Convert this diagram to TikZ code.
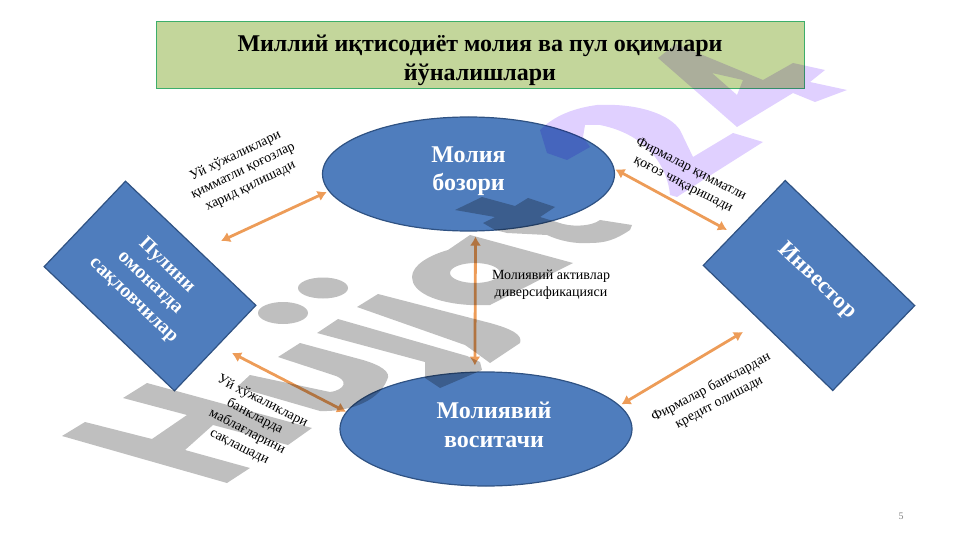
\documentclass[tikz,border=0pt]{standalone}
\usepackage{fontspec}
\setmainfont{Liberation Serif}
\usepackage{xcolor}
\usetikzlibrary{arrows.meta}
\usetikzlibrary{shapes.geometric}

\definecolor{titlefill}{HTML}{C3D69B}
\definecolor{titleline}{HTML}{3DAE6A}
\definecolor{nodefill}{HTML}{4F7DBD}
\definecolor{nodeline}{HTML}{2F5283}
\definecolor{flowline}{HTML}{ED9C58}
\definecolor{markgray}{HTML}{BFBFBF}
\definecolor{markpurple}{HTML}{E0D0FF}

\tikzset{
  market/.style={ellipse,draw=nodeline,fill=nodefill,line width=1.2pt,minimum width=292pt,minimum height=114pt,inner sep=0pt},
  markettext/.style={text=white,inner sep=0pt,align=center,font=\fontsize{24}{28.5}\selectfont\bfseries},
  agent/.style={rectangle,draw=nodeline,fill=nodefill,line width=1.2pt,minimum width=180pt,minimum height=118pt,inner sep=0pt},
  agenttext/.style={text=white,inner sep=0pt,align=center},
  flow/.style={{Latex[length=9pt,width=11pt]}-{Latex[length=9pt,width=11pt]},draw=flowline,line width=2.8pt},
  note/.style={align=center,inner sep=0pt,font=\fontsize{14}{17}\selectfont}
}

\begin{document}
\begin{tikzpicture}[x=1pt,y=-1pt]
  \useasboundingbox (0,0) rectangle (961,540);
  % header
  \node[rectangle,draw=titleline,fill=titlefill,line width=1pt,minimum width=648pt,minimum height=67pt,inner sep=0pt] (title) at (480,55.5) {};
  \node[inner sep=0pt,align=center,font=\fontsize{24}{29.5}\selectfont\bfseries] (titletext) at (480,60.5) {Миллий иқтисодиёт молия ва пул оқимлари\\йўналишлари};

  \node[market] (bozor) at (468.5,174) {};
  \node[market] (vositachi) at (486,429) {};
  \node[agent,rotate=-43.6] (saver) at (150,286) {};
  \node[agent,rotate=-44] (investor) at (809,285.5) {};
  \node[markettext] (bozortext) at (468.5,171) {Молия\\бозори};
  \node[markettext] (vositachitext) at (494,425) {Молиявий\\воситачи};
  \node[agenttext,rotate=-43.6,font=\fontsize{19.7}{24}\selectfont\bfseries] (savertext) at (150,283) {Пулини\\омонатда\\сақловчилар};
  \node[agenttext,rotate=-44,font=\fontsize{23}{28}\selectfont\bfseries] (investortext) at (817,281) {Инвестор};

  \coordinate (saverup) at (221,241);
  \coordinate (saverdown) at (232,353);
  \coordinate (investup) at (727,230);
  \coordinate (investdown) at (743,332);

  \draw[flow,shorten >=2pt] (saverup) -- (bozor.187);
  \draw[flow,shorten <=1pt] (bozor.2) -- (investup);
  \draw[flow,shorten <=5pt,shorten >=6pt] (bozor.-83.5) -- (vositachi.101);
  \draw[flow] (saverdown) -- (vositachi.173);
  \draw[flow,shorten >=2pt] (investdown) -- (vositachi.10);

  \node[note,rotate=26] (lbuy) at (243,171) {Уй хўжаликлари\\қимматли қоғозлар\\харид қилишади};
  \node[note,rotate=-27] (lissue) at (687,177) {Фирмалар қимматли\\қоғоз чиқаришади};
  \node[note] (lasset) at (551,285) {Молиявий активлар\\диверсификацияси};
  \node[note,rotate=-27] (lsave) at (251,424) {Уй хўжаликлари\\банкларда\\маблағларини\\сақлашади};
  \node[note,rotate=28] (lcredit) at (715,395) {Фирмалар банклардан\\кредит олишади};
  \node[text=gray,inner sep=0pt,font=\fontsize{10}{12}\selectfont] (pageno) at (901,516) {5};

  % watermark goes over everything
  \begin{scope}[blend mode=multiply]
    \fill[markgray] (62,436) -- (85,422) -- (152,439) -- (187,415) -- (123,398) -- (147,383) -- (312,428) -- (288,445) -- (213,425) -- (185,450) -- (250,468) -- (227,483) -- cycle;
    \fill[markgray] (278,357) -- (300,343) -- (363,360) .. controls (380,365) and (392,372) .. (387,380) .. controls (380,398) and (355,412) .. (320,411) -- (237,387) -- (250,375) -- (330,392) .. controls (345,390) and (350,380) .. (333,375) -- cycle;
    \fill[markgray] (283,313) ellipse (25 and 11);
    \fill[markgray] (323,288) ellipse (25 and 10.5);
    \fill[markgray] (317,333) -- (338,319) -- (467,356) -- (480,362) -- (482,370) -- (440,388) -- (425,378) -- (425,362) -- cycle;
    \fill[markgray] (357,307) -- (378,294) -- (490,323) .. controls (512,329) and (523,335) .. (520,343) -- (490,363) -- (475,352) -- (465,345) -- cycle;
    \fill[markgray,even odd rule] (470,235) -- (573,263) -- (490,305) -- (470,305) .. controls (435,303) and (412,292) .. (412,277) .. controls (412,265) and (430,255) .. (448,250) -- cycle (475,273) ellipse (25 and 10);
    \fill[markgray] (455,210) -- (482,197) -- (515,206) -- (528,198) -- (555,207) -- (540,217) -- (563,224) .. controls (575,227) and (592,226) .. (600,220) -- (632,225) -- (630,230) .. controls (615,240) and (605,243) .. (590,243) .. controls (575,244) and (560,241) .. (547,235) -- (507,233) -- (495,230) -- (483,223) -- (495,217) -- cycle;
    \fill[markpurple] (540,130) .. controls (555,115) and (575,108) .. (597,105) .. controls (640,103) and (670,115) .. (680,130) -- (693,157) -- (733,133) -- (763,142) -- (703,180) -- (677,197) -- (670,195) .. controls (668,170) and (650,135) .. (600,125) -- (585,125) -- (583,137) -- (590,147) -- (567,160) -- (547,153) -- cycle;
    \fill[markpurple,even odd rule] (658,58) -- (676,44) -- (763,80) -- (793,63) -- (825,70) -- (810,82) -- (847,90) -- (815,102) -- (793,93) -- (737,127) -- cycle (712,73) -- (743,80) -- (737,95) -- cycle;
  \end{scope}
\end{tikzpicture}
\end{document}
